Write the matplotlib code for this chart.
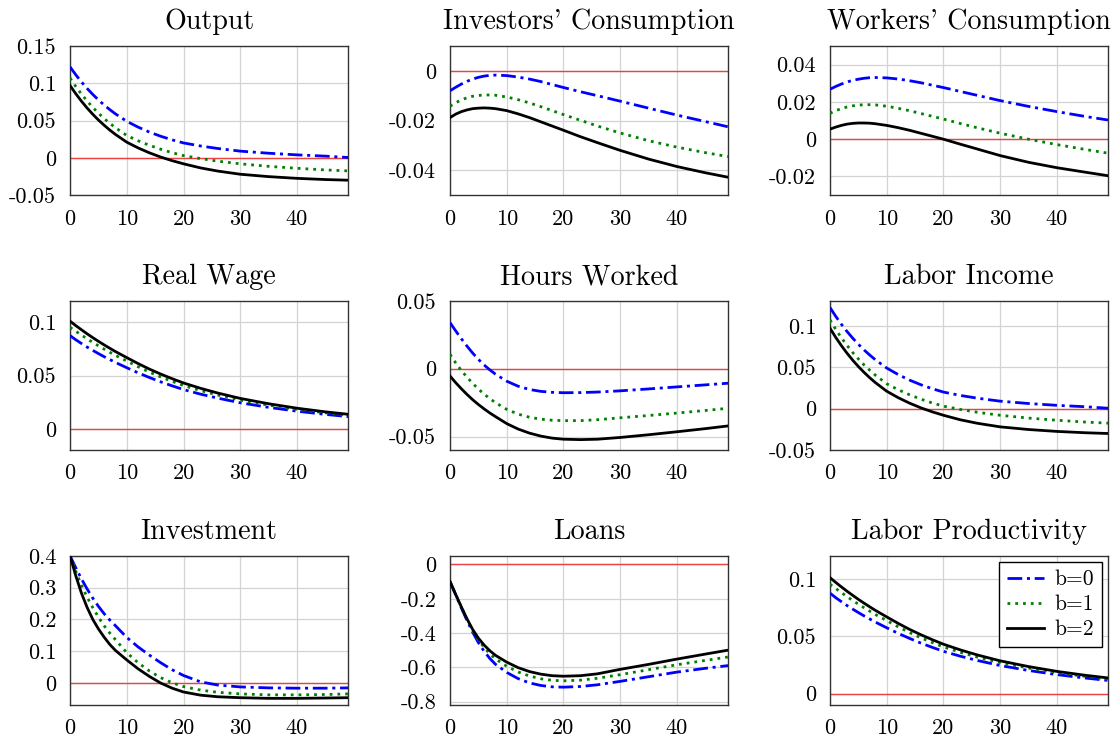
import matplotlib
matplotlib.use("Agg")
import matplotlib.pyplot as plt

# #############################################################################
# Datos (periodos y respuestas para b=0, b=1, b=2)

periodos = [0, 1, 2, 3, 4, 5, 6, 7, 8, 10, 12, 14, 16, 18, 20, 23, 26, 30, 35, 40, 45, 49]
etiquetas = ["b=0", "b=1", "b=2"]

output_b0 = [0.122, 0.1115, 0.1019, 0.0931, 0.0851, 0.0777, 0.0709, 0.0647, 0.0590, 0.049, 0.0412, 0.0345,
             0.0289, 0.0241, 0.020, 0.0159, 0.0126, 0.009, 0.0062, 0.004, 0.0023, 0.0005]
output_b1 = [0.107, 0.0958, 0.0856, 0.0763, 0.0677, 0.0600, 0.0528, 0.0464, 0.0404, 0.030, 0.0229, 0.0168,
             0.0115, 0.0069, 0.003, -0.0010, -0.0044, -0.008, -0.0114, -0.014, -0.0162, -0.0175]
output_b2 = [0.097, 0.0861, 0.0761, 0.0669, 0.0585, 0.0508, 0.0438, 0.0373, 0.0314, 0.021, 0.0133, 0.0067,
             0.0010, -0.0038, -0.008, -0.0135, -0.0177, -0.022, -0.0252, -0.0275, -0.0291, -0.030]

cons_inv_b0 = [-0.0080, -0.0066, -0.0053, -0.0042, -0.0033, -0.0026, -0.0021, -0.0018, -0.0017, -0.0019, -0.0025,
               -0.0033, -0.0043, -0.0055, -0.0067, -0.0084, -0.0100, -0.0122, -0.0150, -0.0178, -0.0204, -0.0225]
cons_inv_b1 = [-0.0142, -0.0128, -0.0117, -0.0108, -0.0102, -0.0099, -0.0097, -0.0097, -0.0098, -0.0105, -0.0116,
               -0.0129, -0.0144, -0.0160, -0.0176, -0.0199, -0.0222, -0.0250, -0.0281, -0.0307, -0.0329, -0.0345]
cons_inv_b2 = [-0.0188, -0.0174, -0.0164, -0.0157, -0.0152, -0.0150, -0.0149, -0.0150, -0.0152, -0.0160, -0.0173,
               -0.0188, -0.0205, -0.0222, -0.0239, -0.0265, -0.0289, -0.0320, -0.0355, -0.0385, -0.0410, -0.0428]

cons_trab_b0 = [0.0268, 0.0283, 0.0296, 0.0307, 0.0316, 0.0322, 0.0327, 0.0330, 0.0331, 0.0329, 0.0323,
                0.0314, 0.0303, 0.0290, 0.0277, 0.0256, 0.0235, 0.0207, 0.0176, 0.0148, 0.0122, 0.0103]
cons_trab_b1 = [0.0139, 0.0153, 0.0164, 0.0173, 0.0179, 0.0183, 0.0185, 0.0185, 0.0184, 0.0177, 0.0166,
                0.0153, 0.0138, 0.0123, 0.0108, 0.0084, 0.0061, 0.0032, 0.0000, -0.0029, -0.0055, -0.0075]
cons_trab_b2 = [0.0054, 0.0065, 0.0074, 0.0081, 0.0085, 0.0087, 0.0087, 0.0086, 0.0083, 0.0074, 0.0062,
                0.0048, 0.0032, 0.0016, 0.0000, -0.0027, -0.0053, -0.0088, -0.0124, -0.0153, -0.0177, -0.0196]

salario_b0 = [0.0875, 0.0836, 0.0801, 0.0767, 0.0736, 0.0706, 0.0677, 0.0650, 0.0623, 0.0573, 0.0525,
              0.0481, 0.0440, 0.0403, 0.0368, 0.0325, 0.0288, 0.0244, 0.0201, 0.0165, 0.0135, 0.0114]
salario_b1 = [0.0953, 0.0916, 0.0880, 0.0845, 0.0811, 0.0779, 0.0748, 0.0718, 0.0689, 0.0636, 0.0582,
              0.0532, 0.0486, 0.0445, 0.0406, 0.0359, 0.0317, 0.0269, 0.0222, 0.0182, 0.0150, 0.0126]
salario_b2 = [0.101, 0.0969, 0.0930, 0.0892, 0.0856, 0.0821, 0.0788, 0.0756, 0.0725, 0.0668, 0.0612,
              0.0560, 0.0513, 0.0470, 0.0430, 0.0380, 0.0336, 0.0285, 0.0235, 0.0193, 0.0159, 0.0136]

horas_b0 = [0.0340, 0.0279, 0.0221, 0.0166, 0.0115, 0.0069, 0.0028, -0.0008, -0.0040, -0.0092, -0.0129,
            -0.0153, -0.0167, -0.0174, -0.0177, -0.0176, -0.0172, -0.0163, -0.0149, -0.0134, -0.0119, -0.0107]
horas_b1 = [0.0106, 0.0043, -0.0013, -0.0063, -0.0108, -0.0150, -0.0187, -0.0220, -0.0250, -0.0300, -0.0335,
            -0.0358, -0.0372, -0.0380, -0.0383, -0.0383, -0.0376, -0.0362, -0.0345, -0.0327, -0.0308, -0.0292]
horas_b2 = [-0.0054, -0.0103, -0.0148, -0.0190, -0.0229, -0.0264, -0.0296, -0.0326, -0.0353, -0.0405, -0.0445,
            -0.0475, -0.0497, -0.0512, -0.0520, -0.0523, -0.0520, -0.0507, -0.0487, -0.0465, -0.0442, -0.0422]

ingreso_b0 = [0.122, 0.1115, 0.1019, 0.0931, 0.0851, 0.0777, 0.0709, 0.0647, 0.0590, 0.049, 0.0412, 0.0345,
              0.0289, 0.0241, 0.020, 0.0159, 0.0126, 0.009, 0.0062, 0.004, 0.0023, 0.0005]
ingreso_b1 = [0.107, 0.0958, 0.0856, 0.0763, 0.0677, 0.0600, 0.0528, 0.0464, 0.0404, 0.030, 0.0229, 0.0168,
              0.0115, 0.0069, 0.003, -0.0010, -0.0044, -0.008, -0.0114, -0.014, -0.0162, -0.0175]
ingreso_b2 = [0.097, 0.0861, 0.0761, 0.0669, 0.0585, 0.0508, 0.0438, 0.0373, 0.0314, 0.021, 0.0133, 0.0067,
              0.0010, -0.0038, -0.008, -0.0135, -0.0177, -0.022, -0.0252, -0.0275, -0.0291, -0.030]

inversion_b0 = [0.400, 0.363, 0.328, 0.296, 0.267, 0.241, 0.218, 0.198, 0.180, 0.143, 0.113,
                0.087, 0.063, 0.041, 0.023, 0.003, -0.007, -0.013, -0.016, -0.017, -0.017, -0.016]
inversion_b1 = [0.400, 0.352, 0.308, 0.270, 0.237, 0.207, 0.180, 0.157, 0.136, 0.095, 0.063,
                0.037, 0.016, 0.000, -0.012, -0.023, -0.030, -0.035, -0.038, -0.038, -0.037, -0.035]
inversion_b2 = [0.400, 0.338, 0.283, 0.238, 0.200, 0.170, 0.144, 0.121, 0.102, 0.072, 0.044,
                0.020, -0.001, -0.017, -0.029, -0.039, -0.044, -0.047, -0.049, -0.049, -0.048, -0.047]

prestamos_b0 = [-0.100, -0.178, -0.254, -0.328, -0.396, -0.456, -0.506, -0.548, -0.582, -0.630, -0.666,
                -0.691, -0.706, -0.714, -0.716, -0.712, -0.702, -0.682, -0.655, -0.628, -0.606, -0.590]
prestamos_b1 = [-0.100, -0.176, -0.250, -0.322, -0.386, -0.440, -0.484, -0.521, -0.551, -0.594, -0.627,
                -0.651, -0.667, -0.676, -0.679, -0.675, -0.664, -0.643, -0.614, -0.585, -0.560, -0.540]
prestamos_b2 = [-0.100, -0.175, -0.248, -0.318, -0.380, -0.430, -0.470, -0.503, -0.530, -0.570, -0.602,
                -0.625, -0.640, -0.649, -0.652, -0.649, -0.638, -0.612, -0.583, -0.552, -0.523, -0.500]

productiv_b0 = [0.0875, 0.0836, 0.0801, 0.0767, 0.0736, 0.0706, 0.0677, 0.0650, 0.0623, 0.0573, 0.0525,
                0.0481, 0.0440, 0.0403, 0.0368, 0.0325, 0.0288, 0.0244, 0.0201, 0.0165, 0.0135, 0.0114]
productiv_b1 = [0.0953, 0.0916, 0.0880, 0.0845, 0.0811, 0.0779, 0.0748, 0.0718, 0.0689, 0.0636, 0.0582,
                0.0532, 0.0486, 0.0445, 0.0406, 0.0359, 0.0317, 0.0269, 0.0222, 0.0182, 0.0150, 0.0126]
productiv_b2 = [0.101, 0.0969, 0.0930, 0.0892, 0.0856, 0.0821, 0.0788, 0.0756, 0.0725, 0.0668, 0.0612,
                0.0560, 0.0513, 0.0470, 0.0430, 0.0380, 0.0336, 0.0285, 0.0235, 0.0193, 0.0159, 0.0136]

titulos = ["Output", "Investors' Consumption", "Workers' Consumption",
           "Real Wage", "Hours Worked", "Labor Income",
           "Investment", "Loans", "Labor Productivity"]
series = [(output_b0, output_b1, output_b2),
          (cons_inv_b0, cons_inv_b1, cons_inv_b2),
          (cons_trab_b0, cons_trab_b1, cons_trab_b2),
          (salario_b0, salario_b1, salario_b2),
          (horas_b0, horas_b1, horas_b2),
          (ingreso_b0, ingreso_b1, ingreso_b2),
          (inversion_b0, inversion_b1, inversion_b2),
          (prestamos_b0, prestamos_b1, prestamos_b2),
          (productiv_b0, productiv_b1, productiv_b2)]
limites_y = [(-0.05, 0.15), (-0.05, 0.01), (-0.03, 0.05),
             (-0.02, 0.12), (-0.06, 0.05), (-0.05, 0.13),
             (-0.07, 0.40), (-0.82, 0.05), (-0.01, 0.12)]
ticks_y = [[-0.05, 0, 0.05, 0.1, 0.15], [-0.04, -0.02, 0], [-0.02, 0, 0.02, 0.04],
           [0, 0.05, 0.1], [-0.05, 0, 0.05], [-0.05, 0, 0.05, 0.1],
           [0, 0.1, 0.2, 0.3, 0.4], [-0.8, -0.6, -0.4, -0.2, 0], [0, 0.05, 0.1]]

# #############################################################################
# Estilo (fuente tipo LaTeX)

plt.rcParams['font.family'] = ['cmr10', 'DejaVu Serif']
plt.rcParams['axes.unicode_minus'] = False
plt.rcParams['axes.formatter.use_mathtext'] = False

estilos = [dict(color=(0, 0, 1), linestyle=(0, (5.3, 1.7, 1.1, 1.7))),
           dict(color=(0, 0.5, 0), linestyle=(0, (1, 1.8))),
           dict(color='black', linestyle='-')]


def formato(v, pos=None):
    """Etiquetas sin ceros sobrantes, como pgfplots"""
    if abs(v) < 1e-12:
        return "0"
    return ("%g" % v)


fig, axes = plt.subplots(3, 3, figsize=(11.12, 7.40), dpi=100)
plt.subplots_adjust(left=0.063, right=0.9964, top=0.9378, bottom=0.0473,
                    wspace=0.367, hspace=0.71)

for i, ax in enumerate(axes.flat):
    ax.axhline(0, color=(0.93, 0.25, 0.25), lw=1.0, zorder=2)
    for datos, est, etiq in zip(series[i], estilos, etiquetas):
        ax.plot(periodos, datos, lw=2.0, label=etiq, zorder=3, **est)
    ax.set_xlim(0, 49)
    ax.set_ylim(*limites_y[i])
    ax.set_xticks([0, 10, 20, 30, 40])
    ax.set_yticks(ticks_y[i])
    ax.yaxis.set_major_formatter(plt.FuncFormatter(formato))
    ax.grid(True, color='#d3d3d3', lw=0.9)
    ax.set_axisbelow(True)
    ax.tick_params(direction='in', length=0, labelsize=16, pad=10)
    for s in ax.spines.values():
        s.set_color('#333333')
        s.set_linewidth(1.0)
    ax.set_title(titulos[i], fontsize=20.2, pad=12)

leg = axes[2, 2].legend(loc='upper right', fontsize=15.5, fancybox=False,
                        framealpha=1, edgecolor='black', handlelength=1.7,
                        handletextpad=0.5, borderaxespad=0.3, labelspacing=0.25,
                        borderpad=0.35)
leg.get_frame().set_linewidth(1.0)

fig.savefig("out.png", dpi=100)
